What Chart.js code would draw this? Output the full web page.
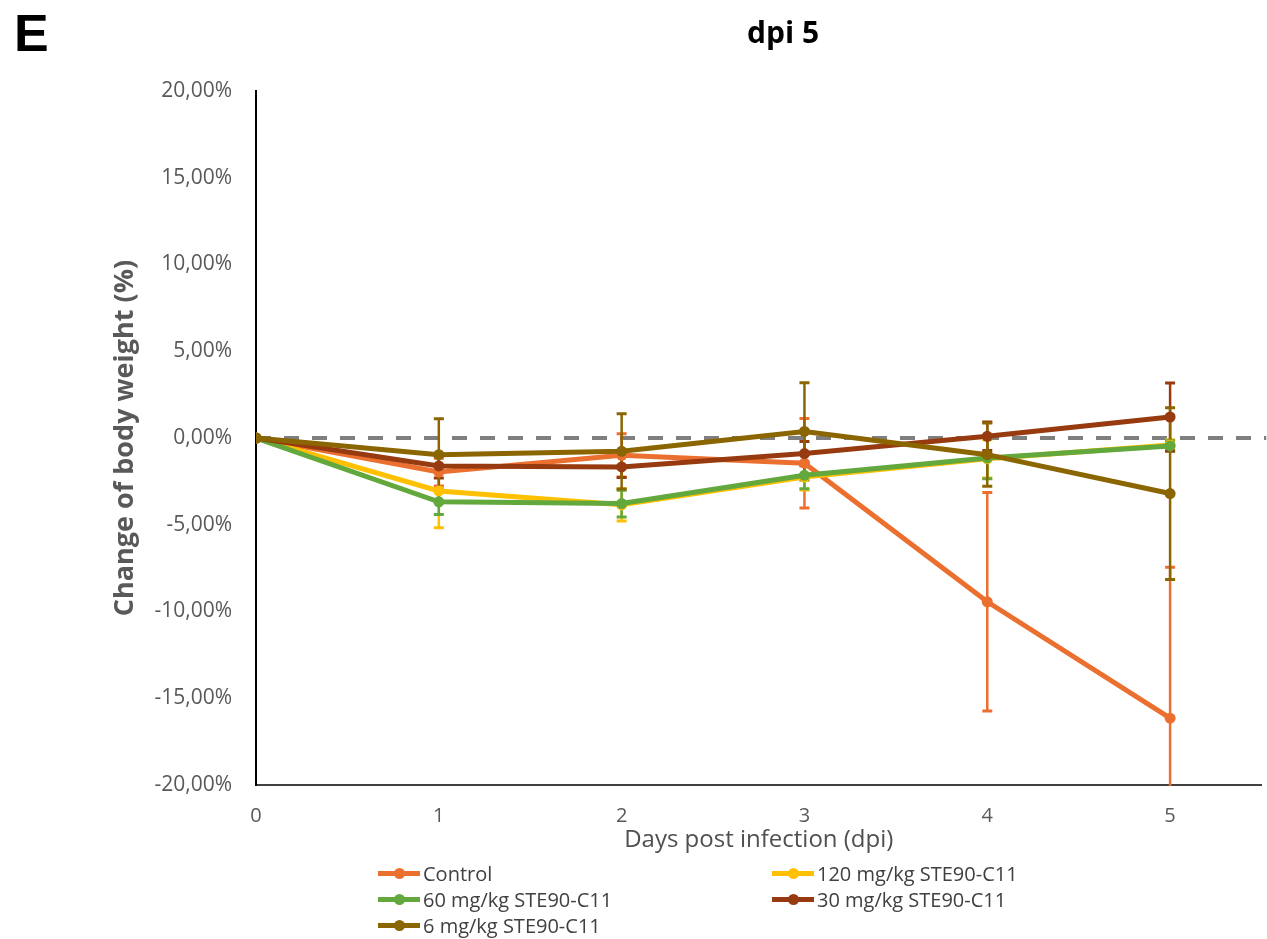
<!DOCTYPE html>
<html><head><meta charset="utf-8">
<script src="https://cdn.jsdelivr.net/npm/chart.js@4.4.0/dist/chart.umd.min.js"></script>
<style>
html,body{margin:0;padding:0;background:#fff;}
#wrap{position:relative;width:1267px;height:939px;overflow:hidden;background:#fff;}
#c{position:absolute;left:0;top:0;}
.ov{position:absolute;white-space:nowrap;}
#panel{left:14px;top:3px;font:bold 52px "Liberation Sans",Arial,sans-serif;color:#000;line-height:60px;}
#title{left:783px;top:31px;transform:translate(-50%,-50%);font:bold 30px "Open Sans",sans-serif;color:#000;}
.leg{position:absolute;height:26px;display:flex;align-items:center;font:20px "Open Sans",sans-serif;color:#404040;white-space:nowrap;}
.mk{position:relative;width:42px;height:26px;margin-right:3px;flex:none;}
.mk .ln{position:absolute;left:0;top:11px;width:42px;height:5px;}
.mk .dt{position:absolute;left:16px;top:8px;width:11px;height:11px;border-radius:50%;}
</style></head>
<body>
<div id="wrap">
<canvas id="c" width="1267" height="939"></canvas>
<div class="ov" id="panel">E</div>
<div class="ov" id="title">dpi 5</div>
<div id="legend"></div>
</div>
<script>
// ---- data ----
const days = [0, 1, 2, 3, 4, 5];
const dayLabels = ['0', '1', '2', '3', '4', '5'];
const yTickValues = [-20, -15, -10, -5, 0, 5, 10, 15, 20];
const yTickLabels = ['-20,00%', '-15,00%', '-10,00%', '-5,00%', '0,00%', '5,00%', '10,00%', '15,00%', '20,00%'];
const seriesNames = ['Control', '120 mg/kg STE90-C11', '60 mg/kg STE90-C11', '30 mg/kg STE90-C11', '6 mg/kg STE90-C11'];
const control     = [0, -1.96, -1.00, -1.45, -9.44, -16.15];
const controlSD   = [0,  0.80,  1.25,  2.58,  6.30,   8.70];
const mg120       = [0, -3.05, -3.85, -2.25, -1.20, -0.40];
const mg120SD     = [0,  2.13,  0.93,  0.75,  1.10,  0.30];
const mg60        = [0, -3.68, -3.78, -2.15, -1.15, -0.46];
const mg60SD      = [0,  0.73,  0.77,  0.77,  1.20,  0.30];
const mg30        = [0, -1.61, -1.67, -0.90,  0.10,  1.21];
const mg30SD      = [0,  0.70,  0.60,  0.70,  0.82,  1.96];
const mg6         = [0, -0.96, -0.77,  0.38, -0.96, -3.20];
const mg6SD       = [0,  2.07,  2.17,  2.80,  1.82,  4.95];
const referenceLevel = 0;

// ---- styles ----
const colors = ['#EB7030', '#FFC000', '#62A83C', '#973A10', '#8A6500'];
const means = [control, mg120, mg60, mg30, mg6];
const sds = [controlSD, mg120SD, mg60SD, mg30SD, mg6SD];

const errorBars = {
  id: 'errorBars',
  beforeDatasetsDraw(chart) {
    const {ctx, chartArea: ca, scales: {x, y}} = chart;
    ctx.save();
    ctx.beginPath();
    ctx.rect(ca.left, ca.top, ca.right - ca.left + 5, ca.bottom - ca.top + 1);
    ctx.clip();
    // zero reference line
    const y0 = y.getPixelForValue(referenceLevel);
    ctx.strokeStyle = '#7F7F7F';
    ctx.lineWidth = 4;
    ctx.setLineDash([15, 13]);
    ctx.beginPath();
    ctx.moveTo(ca.left, y0);
    ctx.lineTo(ca.right + 5, y0);
    ctx.stroke();
    ctx.setLineDash([]);
    // error bars
    for (let k = 0; k < means.length; k++) {
      ctx.strokeStyle = colors[k];
      for (let i = 0; i < days.length; i++) {
        if (!sds[k][i]) continue;
        const px = x.getPixelForValue(days[i]);
        const yt = y.getPixelForValue(means[k][i] + sds[k][i]);
        const yb = y.getPixelForValue(means[k][i] - sds[k][i]);
        ctx.lineWidth = 2.5;
        ctx.beginPath();
        ctx.moveTo(px, yt); ctx.lineTo(px, yb); ctx.stroke();
        ctx.lineWidth = 3;
        [yt, yb].forEach(yy => {
          if (yy >= ca.top && yy <= ca.bottom) {
            ctx.beginPath(); ctx.moveTo(px - 5, yy); ctx.lineTo(px + 5, yy); ctx.stroke();
          }
        });
      }
    }
    ctx.restore();
  }
};

const chart = new Chart(document.getElementById('c'), {
  type: 'line',
  data: {
    datasets: seriesNames.map((name, k) => ({
      label: name,
      data: days.map((d, i) => ({x: d, y: means[k][i]})),
      borderColor: colors[k],
      backgroundColor: colors[k],
      borderWidth: 5,
      pointRadius: 5.5,
      pointHoverRadius: 5.5,
      pointBorderWidth: 0,
      tension: 0,
      order: seriesNames.length - k
    }))
  },
  options: {
    responsive: false,
    animation: false,
    devicePixelRatio: 1,
    layout: {padding: {left: 109, right: 5, top: 91, bottom: 84}},
    plugins: {legend: {display: false}, title: {display: false}, tooltip: {enabled: false}},
    scales: {
      x: {
        type: 'linear', min: 0, max: 5.5,
        grid: {display: false, drawTicks: false},
        border: {display: true, color: '#404040', width: 2},
        afterBuildTicks: s => { s.ticks = days.map(v => ({value: v})); },
        ticks: {padding: 19, color: '#595959', font: {family: 'Open Sans', size: 20},
                callback: (v, i) => dayLabels[i]},
        title: {display: true, text: 'Days post infection (dpi)', color: '#505050',
                font: {family: 'Open Sans', size: 24}, padding: {top: 0, bottom: 0}},
        afterFit: s => { s.height = 70; }
      },
      y: {
        min: -20, max: 20,
        grid: {display: false, drawTicks: false},
        border: {display: true, color: '#000', width: 2},
        afterBuildTicks: s => { s.ticks = yTickValues.map(v => ({value: v})); },
        ticks: {padding: 24, color: '#595959', font: {family: 'Open Sans', size: 21},
                callback: (v, i) => yTickLabels[i]},
        title: {display: true, text: 'Change of body weight (%)', color: '#595959',
                font: {family: 'Open Sans', size: 27, weight: 'bold'}, padding: {top: 0, bottom: 0}},
        afterFit: s => { s.width = 147; }
      }
    }
  },
  plugins: [errorBars]
});

// ---- HTML legend ----
const legCols = [378, 772];
const legRows = [860, 886, 912];
const legend = document.getElementById('legend');
seriesNames.forEach((name, k) => {
  const el = document.createElement('div');
  el.className = 'leg';
  el.style.left = legCols[k % 2] + 'px';
  el.style.top = legRows[Math.floor(k / 2)] + 'px';
  el.innerHTML = '<div class="mk"><div class="ln" style="background:' + colors[k] + '"></div><div class="dt" style="background:' + colors[k] + '"></div></div>';
  const t = document.createElement('span');
  t.textContent = name;
  el.appendChild(t);
  legend.appendChild(el);
});
</script>
</body></html>
